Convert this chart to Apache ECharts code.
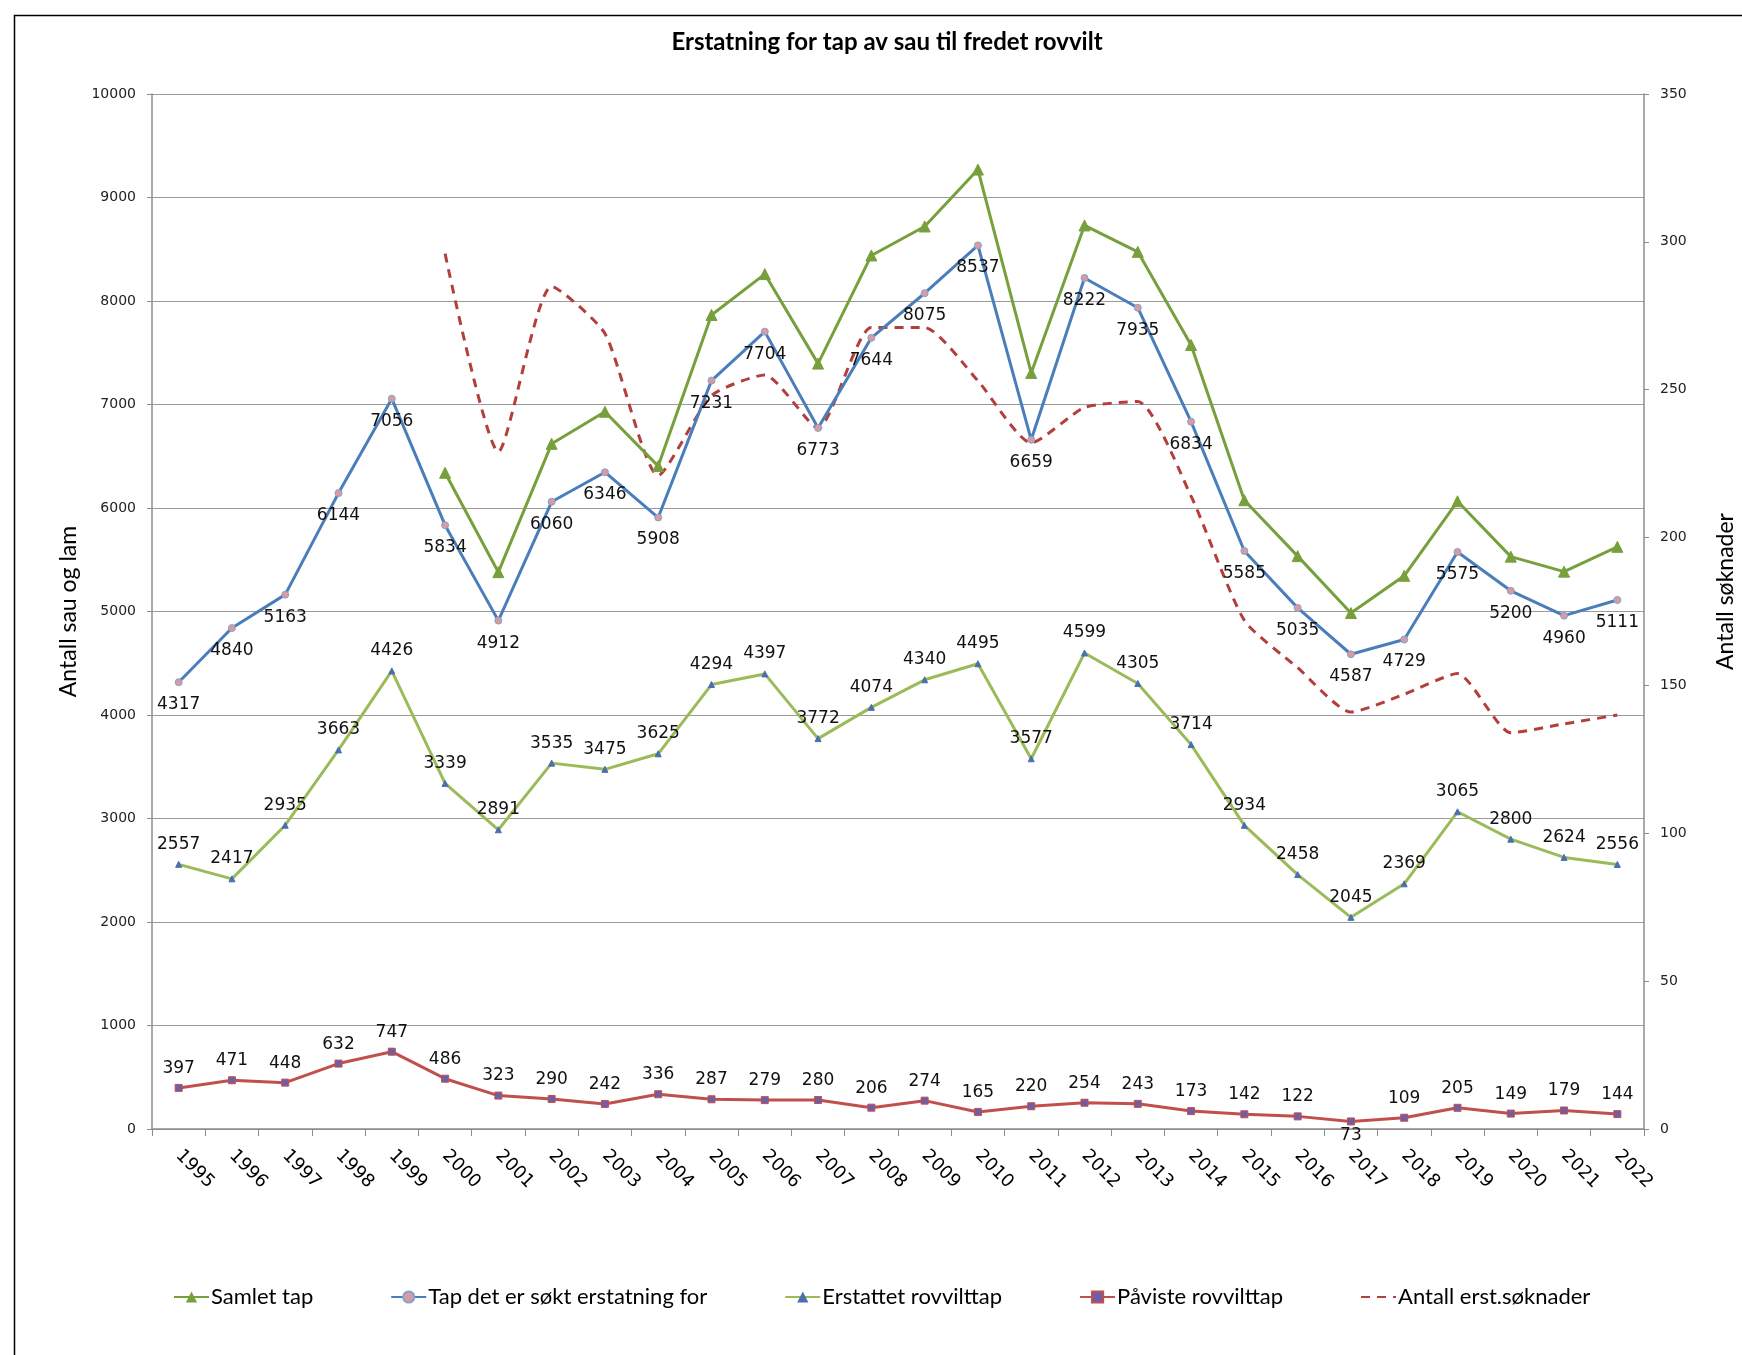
<!DOCTYPE html>
<html>
<head>
<meta charset="utf-8">
<script src="https://cdn.jsdelivr.net/npm/echarts@6/dist/echarts.min.js"></script>
<style>
html,body{margin:0;padding:0;background:#ffffff;}
#chart{width:1742px;height:1355px;}
</style>
</head>
<body>
<div id="chart"></div>
<script>
// ---- data ----
const years = ['1995','1996','1997','1998','1999','2000','2001','2002','2003','2004','2005','2006','2007','2008','2009','2010','2011','2012','2013','2014','2015','2016','2017','2018','2019','2020','2021','2022'];
const samletTap = [null,null,null,null,null,6340,5380,6620,6930,6405,7865,8260,7395,8440,8720,9270,7305,8730,8475,7575,6075,5535,4985,5345,6065,5530,5385,5625];
const soktTap = [4317,4840,5163,6144,7056,5834,4912,6060,6346,5908,7231,7704,6773,7644,8075,8537,6659,8222,7935,6834,5585,5035,4587,4729,5575,5200,4960,5111];
const erstattet = [2557,2417,2935,3663,4426,3339,2891,3535,3475,3625,4294,4397,3772,4074,4340,4495,3577,4599,4305,3714,2934,2458,2045,2369,3065,2800,2624,2556];
const paviste = [397,471,448,632,747,486,323,290,242,336,287,279,280,206,274,165,220,254,243,173,142,122,73,109,205,149,179,144];
const soknader = [null,null,null,null,null,296,229,285,269,221,248,255,237,271,271,253,232,244,246,214,172,156,141,147,154,134,137,140];
const leftAxisRange = [0, 10000, 1000];   // min, max, interval
const rightAxisRange = [0, 350, 50];
const seriesNames = ['Samlet tap','Tap det er søkt erstatning for','Erstattet rovvilttap','Påviste rovvilttap','Antall erst.søknader'];
const labelBelowYears = ['2017'];   // Påviste label placed below point

// ---- chart ----
const chart = echarts.init(document.getElementById('chart'), null, {renderer:'canvas'});
const narrow = 'Lato, "Noto Sans", sans-serif';
const wide = '"DejaVu Sans", Verdana, sans-serif';

const pavisteData = paviste.map((v,i)=> labelBelowYears.indexOf(years[i])>=0
  ? {value:v, label:{position:'bottom', distance:2}} : v);

const dataLabel = (pos, dist) => ({
  show:true, position:pos, distance:dist,
  fontFamily:wide, fontSize:17, color:'#111',
  formatter: p => (p.value==null ? '' : String(p.value))
});

const option = {
  animation:false,
  backgroundColor:'#ffffff',
  title:{
    text:'Erstatning for tap av sau til fredet rovvilt',
    left:882, top:25, textAlign:'center',
    textStyle:{fontFamily:narrow, fontWeight:'bold', fontSize:24, color:'#000'}
  },
  graphic:[{
    type:'rect', left:12, top:13, silent:true,
    shape:{width:1760, height:1370},
    style:{fill:'none', stroke:'#000', lineWidth:1.5}
  }],
  legend:{
    left:168, top:1281, orient:'horizontal',
    itemGap:77, itemWidth:35, itemHeight:14,
    textStyle:{fontFamily:narrow, fontSize:22, color:'#000', padding:[0,0,0,-3]},
    data:seriesNames.map((n,i)=> i===4
      ? {name:n, itemStyle:{color:'rgba(0,0,0,0)', borderColor:'rgba(0,0,0,0)', opacity:0}}
      : n)
  },
  grid:{left:152, right:98, top:94, bottom:226, containLabel:false, outerBoundsMode:'none'},
  xAxis:{
    type:'category', data:years, boundaryGap:true,
    axisLine:{show:true, lineStyle:{color:'#8c8c8c', width:1.5}},
    axisTick:{show:true, alignWithLabel:false, length:7, inside:false, lineStyle:{color:'#8c8c8c'}},
    axisLabel:{interval:0, rotate:-45, margin:24, fontFamily:wide, fontSize:18, color:'#000'},
    splitLine:{show:false}
  },
  yAxis:[{
    type:'value', position:'left',
    min:leftAxisRange[0], max:leftAxisRange[1], interval:leftAxisRange[2],
    name:'Antall sau og lam', nameLocation:'middle', nameGap:64, nameRotate:90,
    nameTextStyle:{fontFamily:narrow, fontSize:23, color:'#000'},
    axisLine:{show:true, lineStyle:{color:'#8c8c8c', width:1.5}},
    axisTick:{show:true, length:5, lineStyle:{color:'#8c8c8c'}},
    axisLabel:{margin:16, fontFamily:wide, fontSize:14, color:'#222', formatter: v => String(v)},
    splitLine:{show:true, lineStyle:{color:'#9a9a9a', width:1}}
  },{
    type:'value', position:'right',
    min:rightAxisRange[0], max:rightAxisRange[1], interval:rightAxisRange[2],
    name:'Antall søknader', nameLocation:'middle', nameGap:70, nameRotate:90,
    nameTextStyle:{fontFamily:narrow, fontSize:23, color:'#000', padding:[0,0,0,40]},
    axisLine:{show:true, lineStyle:{color:'#8c8c8c', width:1.5}},
    axisTick:{show:true, length:5, lineStyle:{color:'#8c8c8c'}},
    axisLabel:{margin:16, fontFamily:wide, fontSize:14, color:'#222', formatter: v => String(v)},
    splitLine:{show:false}
  }],
  series:[{
    name:seriesNames[0], type:'line', yAxisIndex:0, data:samletTap,
    connectNulls:false,
    symbol:'triangle', symbolSize:11, showSymbol:true,
    lineStyle:{color:'#77a03c', width:3},
    itemStyle:{color:'#77a03c', borderColor:'#77a03c'},
    label:{show:false}, z:3
  },{
    name:seriesNames[1], type:'line', yAxisIndex:0, data:soktTap,
    symbol:'circle', symbolSize:7,
    lineStyle:{color:'#4a7ebb', width:3},
    itemStyle:{color:'#dc9a9a', borderColor:'#7fa3d6', borderWidth:1},
    label:dataLabel('bottom', 10), z:4
  },{
    name:seriesNames[2], type:'line', yAxisIndex:0, data:erstattet,
    symbol:'triangle', symbolSize:6,
    lineStyle:{color:'#9bbb59', width:3},
    itemStyle:{color:'#4a6fb0', borderColor:'#4a6fb0'},
    label:dataLabel('top', 8), z:3
  },{
    name:seriesNames[3], type:'line', yAxisIndex:0, data:pavisteData,
    symbol:'rect', symbolSize:7,
    lineStyle:{color:'#c0504d', width:3},
    itemStyle:{color:'#6f5ea6', borderColor:'#c0504d', borderWidth:1},
    label:dataLabel('top', 7), z:3
  },{
    name:seriesNames[4], type:'line', yAxisIndex:1, data:soknader,
    smooth:0.2, showSymbol:false, symbol:'none',
    lineStyle:{color:'#b33f3c', width:3, type:[9,7]},
    itemStyle:{color:'#b33f3c'},
    label:{show:false}, z:2
  }]
};
chart.setOption(option);
</script>
</body>
</html>
